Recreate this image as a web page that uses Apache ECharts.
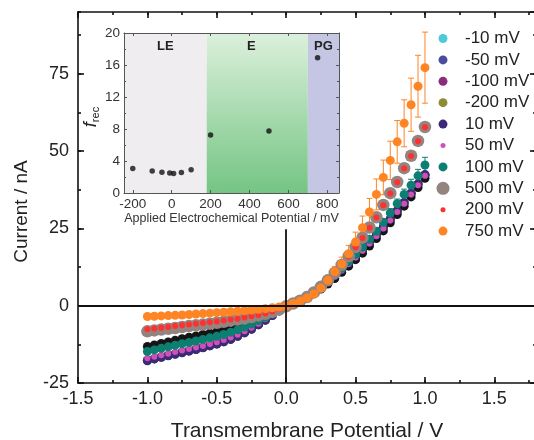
<!DOCTYPE html>
<html><head><meta charset="utf-8">
<script src="https://cdn.jsdelivr.net/npm/echarts@6/dist/echarts.min.js"></script>
<style>html,body{margin:0;padding:0;background:#fff}#c{width:534px;height:440px}</style>
</head><body><div id="c"></div>
<script>
// Transmembrane potential (V)
const potentials = [-1.0,-0.95,-0.9,-0.85,-0.8,-0.75,-0.7,-0.65,-0.6,-0.55,-0.5,-0.45,-0.4,-0.35,-0.3,-0.25,-0.2,-0.15,-0.1,-0.05,0,
  0.05,0.1,0.15,0.2,0.25,0.3,0.35,0.4,0.45,0.5,0.55,0.6,0.65,0.7,0.75,0.8,0.85,0.9,0.95,1.0];

// Currents (nA) for each applied electrochemical potential
const cur_m10 = [-17.7,-17.1,-16.6,-16.1,-15.6,-15.1,-14.6,-14.1,-13.5,-12.9,-12.3,-11.6,-10.8,-9.8,-8.7,-7.5,-6.1,-4.6,-3.1,-1.6,-0.4,
  0.7,1.7,2.9,4.3,5.9,7.7,9.6,11.6,13.7,15.9,18.1,20.4,22.8,25.3,27.9,30.6,33.3,36.3,39.3,42.3];
const cur_m50 = [-17.6,-17.1,-16.5,-16.0,-15.5,-15.0,-14.5,-14.0,-13.5,-12.9,-12.3,-11.6,-10.8,-9.8,-8.7,-7.5,-6.1,-4.6,-3.1,-1.6,-0.4,
  0.7,1.7,2.9,4.3,5.9,7.7,9.6,11.6,13.7,15.9,18.1,20.4,22.8,25.3,27.9,30.5,33.2,36.2,39.2,42.2];
const cur_m100 = [-17.7,-17.2,-16.6,-16.1,-15.6,-15.1,-14.6,-14.1,-13.5,-12.9,-12.3,-11.6,-10.8,-9.8,-8.7,-7.5,-6.1,-4.6,-3.1,-1.6,-0.4,
  0.7,1.7,2.9,4.4,6.0,7.7,9.6,11.6,13.7,15.9,18.1,20.4,22.8,25.3,27.9,30.6,33.3,36.3,39.3,42.3];
const cur_m200 = [-17.6,-17.1,-16.6,-16.1,-15.6,-15.1,-14.6,-14.1,-13.5,-12.9,-12.3,-11.6,-10.8,-9.8,-8.7,-7.5,-6.1,-4.6,-3.1,-1.6,-0.4,
  0.7,1.7,2.9,4.3,5.9,7.7,9.6,11.6,13.7,15.9,18.1,20.4,22.8,25.3,27.9,30.6,33.3,36.3,39.3,42.3];
const cur_10 = [-17.8,-17.2,-16.7,-16.2,-15.7,-15.2,-14.7,-14.2,-13.6,-13.0,-12.4,-11.7,-10.9,-9.9,-8.8,-7.6,-6.2,-4.7,-3.2,-1.7,-0.4,
  0.7,1.7,2.9,4.4,6.0,7.8,9.7,11.7,13.8,16.0,18.2,20.5,22.9,25.4,28.0,30.7,33.4,36.4,39.4,42.4];
const cur_50 = [-17.0,-16.5,-16.0,-15.5,-15.0,-14.5,-14.0,-13.5,-13.0,-12.4,-11.8,-11.1,-10.3,-9.4,-8.3,-7.1,-5.8,-4.4,-3.0,-1.5,-0.3,
  0.6,1.6,2.8,4.2,5.8,7.5,9.4,11.4,13.5,15.6,17.8,20.1,22.5,25.0,27.6,30.3,33.0,36.0,39.0,42.0];
const cur_100 = [-14.8,-14.3,-13.8,-13.3,-12.8,-12.3,-11.9,-11.4,-10.9,-10.4,-9.9,-9.3,-8.6,-7.8,-6.9,-5.9,-4.8,-3.7,-2.5,-1.3,-0.2,
  0.7,1.7,3.0,4.5,6.2,8.0,10.0,12.1,14.3,16.6,19.0,21.5,24.1,27.0,30.0,33.0,36.0,39.0,42.0,45.5];
const cur_500 = [-8.3,-8.0,-7.7,-7.45,-7.2,-6.9,-6.6,-6.35,-6.1,-5.8,-5.5,-5.2,-4.85,-4.5,-4.1,-3.65,-3.15,-2.6,-2.0,-1.2,-0.2,
  0.7,1.6,2.8,4.3,6.1,8.2,10.6,13.2,16.0,19.0,22.0,25.3,28.6,32.6,36.4,40.0,44.5,48.5,53.3,57.8];
const cur_200 = [-7.6,-7.35,-7.1,-6.85,-6.6,-6.35,-6.1,-5.85,-5.6,-5.35,-5.1,-4.8,-4.5,-4.2,-3.85,-3.45,-3.0,-2.5,-1.9,-1.1,-0.2,
  0.7,1.6,2.8,4.2,6.0,8.1,10.5,13.1,15.9,18.9,21.9,25.2,28.5,32.5,36.3,39.9,44.4,48.4,53.2,57.7];
const cur_750 = [-3.5,-3.4,-3.3,-3.2,-3.1,-3.0,-2.85,-2.7,-2.55,-2.4,-2.25,-2.1,-1.95,-1.8,-1.6,-1.4,-1.2,-0.95,-0.7,-0.4,-0.1,
  0.7,1.5,2.5,3.8,5.7,8.2,11.0,13.5,16.8,20.6,25.2,30.3,36.0,41.5,47.0,53.0,59.0,65.0,71.0,77.0];
const cur_black = [-13.2,-12.7,-12.2,-11.7,-11.2,-10.7,-10.2,-9.8,-9.3,-8.9,-8.4,-7.9,-7.3,-6.6,-5.9,-5.1,-4.2,-3.3,-2.3,-1.2,-0.2,
  0.5,1.4,2.5,3.9,5.4,7.0,8.8,10.8,12.8,14.9,17.0,19.3,21.7,24.2,26.8,29.5,32.2,35.2,38.2,41.2];

// Error bars (nA)
const err_750 = [0.3,0.3,0.3,0.3,0.3,0.3,0.3,0.3,0.3,0.3,0.3,0.3,0.3,0.3,0.3,0.3,0.3,0.3,0.3,0.3,0.2,
  0.3,0.4,0.5,0.7,1.0,1.3,1.7,2.2,2.7,3.2,3.8,4.4,5.0,5.6,6.2,6.9,7.6,8.6,10.0,11.5];
const err_100 = [0.3,0.3,0.3,0.3,0.3,0.3,0.3,0.3,0.3,0.3,0.3,0.3,0.3,0.3,0.3,0.3,0.3,0.2,0.2,0.2,0.1,
  0.2,0.2,0.3,0.3,0.4,0.4,0.5,0.6,0.7,0.8,0.9,1.0,1.1,1.2,1.4,1.5,1.7,1.9,2.1,2.5];

// Inset: rectification factor vs applied electrochemical potential
const insetPotential = [-200,-100,-50,-10,10,50,100,200,500,750];
const frec = [3.05,2.75,2.6,2.5,2.45,2.55,2.9,7.25,7.75,16.9];
const regionNames = ['LE','E','PG'];
const regionBounds = [-245,180,700,860];

const seriesNames = ['-10 mV','-50 mV','-100 mV','-200 mV','10 mV','50 mV','100 mV','500 mV','200 mV','750 mV'];

const FONT = 'Liberation Sans, Arial, Helvetica, sans-serif';
function pts(arr){ return potentials.map((v,i)=>[v, arr[i]]); }
function iconPath(r){
  const a = (10 + r).toFixed(2), b = (10 - r).toFixed(2);
  return 'path://M0,0L0,0M20,20L20,20M' + a + ',10A' + r + ',' + r + ',0,1,1,' + b + ',10A' + r + ',' + r + ',0,1,1,' + a + ',10Z';
}
function sc(name, arr, color, size, z){
  return {name:name, type:'scatter', xAxisIndex:0, yAxisIndex:0, data:pts(arr), symbol:'circle', symbolSize:size,
    itemStyle:{color:color, opacity:1}, z:z||2, silent:true};
}
function errBars(arr, errs, color){
  return {type:'custom', xAxisIndex:0, yAxisIndex:0, silent:true, z:2,
    data: potentials.map((v,i)=>[v, arr[i], errs[i]]),
    renderItem:function(params, api){
      const x = api.value(0), y = api.value(1), e = api.value(2);
      const t = api.coord([x, y+e]), b = api.coord([x, y-e]);
      const w = 3, st = {stroke:color, lineWidth:1};
      return {type:'group', children:[
        {type:'line', shape:{x1:t[0],y1:t[1],x2:b[0],y2:b[1]}, style:st},
        {type:'line', shape:{x1:t[0]-w,y1:t[1],x2:t[0]+w,y2:t[1]}, style:st},
        {type:'line', shape:{x1:b[0]-w,y1:b[1],x2:b[0]+w,y2:b[1]}, style:st}
      ]};
    }};
}

const axisLineStyle = {color:'#111', width:1.6};
function mainX(pos, labels, interval, tickLen){
  return {type:'value', gridIndex:0, position:pos, min:-1.5, max:1.8, interval:interval, z:4,
    axisLine:{show:labels!==null, lineStyle:axisLineStyle, onZero:false},
    axisTick:{show:true, inside:true, length:tickLen, lineStyle:{color:'#111', width:1.6}},
    axisLabel:{show:!!labels, fontSize:18, color:'#222', fontFamily:FONT, margin:7, showMaxLabel:false,
      formatter:function(v){ return v.toFixed(1); }},
    splitLine:{show:false}};
}
function mainY(pos, labels, interval, tickLen){
  return {type:'value', gridIndex:0, position:pos, min:-25, max:95, interval:interval, z:4,
    axisLine:{show:labels!==null, lineStyle:axisLineStyle, onZero:false},
    axisTick:{show:true, inside:true, length:tickLen, lineStyle:{color:'#111', width:1.6}},
    axisLabel:{show:!!labels, fontSize:18, color:'#222', fontFamily:FONT, margin:9, showMaxLabel:false},
    splitLine:{show:false}};
}

const xAxes = [
  Object.assign(mainX('bottom', true, 0.5, 6), {name:'Transmembrane Potential / V', nameLocation:'middle', nameGap:38,
    nameTextStyle:{fontSize:21, color:'#222', fontFamily:FONT}}),
  mainX('top', false, 0.5, 6),
  mainX('bottom', null, 0.25, 3),
  mainX('top', null, 0.25, 3)
];
const yAxes = [
  Object.assign(mainY('left', true, 25, 6), {name:'Current / nA', nameLocation:'middle', nameGap:47,
    nameTextStyle:{fontSize:19, color:'#222', fontFamily:FONT, padding:[0,28,0,0]}}),
  mainY('right', false, 25, 6),
  mainY('left', null, 12.5, 3),
  mainY('right', null, 12.5, 3)
];
const insetLine = {color:'#555', width:1};
xAxes.push({type:'value', gridIndex:1, position:'bottom', min:regionBounds[0], max:regionBounds[3], splitNumber:5, z:6,
  axisLine:{show:true, lineStyle:insetLine, onZero:false},
  axisTick:{show:true, inside:true, length:3, lineStyle:insetLine},
  axisLabel:{fontSize:13.5, color:'#333', fontFamily:FONT, margin:4, showMinLabel:false, showMaxLabel:false},
  splitLine:{show:false},
  name:'Applied Electrochemical Potential / mV', nameLocation:'middle', nameGap:19,
  nameTextStyle:{fontSize:12.5, color:'#333', fontFamily:FONT}});
xAxes.push({type:'value', gridIndex:1, position:'top', min:regionBounds[0], max:regionBounds[3], splitNumber:5, z:6,
  axisLine:{show:true, lineStyle:insetLine, onZero:false},
  axisTick:{show:true, inside:true, length:3, lineStyle:insetLine}, axisLabel:{show:false}, splitLine:{show:false}});
yAxes.push({type:'value', gridIndex:1, position:'left', min:0, max:20, interval:4, z:6,
  axisLine:{show:true, lineStyle:insetLine, onZero:false},
  axisTick:{show:true, inside:true, length:3, lineStyle:insetLine},
  minorTick:{show:true, splitNumber:2, length:2, lineStyle:insetLine},
  axisLabel:{fontSize:13.5, color:'#333', fontFamily:FONT, margin:4},
  splitLine:{show:false}, minorSplitLine:{show:false},
  name:'{f|f}{s|rec}', nameLocation:'middle', nameGap:13,
  nameTextStyle:{color:'#222', fontFamily:FONT, padding:[0,8,0,0], rich:{f:{fontSize:18, fontStyle:'italic', fontFamily:FONT, color:'#222'},
    s:{fontSize:11, fontFamily:FONT, color:'#222', padding:[9,0,0,0]}}}});
yAxes.push({type:'value', gridIndex:1, position:'right', min:0, max:20, interval:4, z:6,
  axisLine:{show:true, lineStyle:insetLine, onZero:false},
  axisTick:{show:true, inside:true, length:3, lineStyle:insetLine},
  minorTick:{show:true, splitNumber:2, length:2, lineStyle:insetLine},
  axisLabel:{show:false}, splitLine:{show:false}, minorSplitLine:{show:false}});

const eGradient = {type:'linear', x:0, y:0, x2:0, y2:1, colorStops:[{offset:0, color:'#dcf0dc'},{offset:1, color:'#74c583'}]};
const regionColors = ['#efedef', eGradient, '#c4c6e4'];

const series = [
  // zero lines
  {type:'scatter', xAxisIndex:0, yAxisIndex:0, data:[], z:1, silent:true,
    markLine:{silent:true, symbol:['none','none'], animation:false, label:{show:false},
      lineStyle:{color:'#111', width:1.8, type:'solid'},
      data:[ [{coord:[0,-25]},{coord:[0,24.7]}], [{coord:[-1.5,0]},{coord:[1.8,0]}] ]}},
  sc('-10 mV', cur_m10, '#4fc9d8', 9),
  sc('-50 mV', cur_m50, '#4a4c9e', 9),
  sc('-100 mV', cur_m100, '#8a2b7c', 9),
  sc('-200 mV', cur_m200, '#8d8c35', 9),
  sc('0', cur_black, '#151515', 9),
  sc('10 mV', cur_10, '#3c2a78', 9),
  sc('50 mV', cur_50, '#d04fb9', 6),
  errBars(cur_100, err_100, '#0d7f72'),
  sc('100 mV', cur_100, '#0d7f72', 9),
  sc('500 mV', cur_500, '#948480', 12.5),
  sc('200 mV', cur_200, '#ff3030', 6),
  errBars(cur_750, err_750, '#ff8524'),
  sc('750 mV', cur_750, '#ff8524', 9),
  // inset
  {type:'scatter', xAxisIndex:4, yAxisIndex:4, data:insetPotential.map((v,i)=>[v, frec[i]]),
    symbolSize:5.5, itemStyle:{color:'#111'}, z:5, silent:true,
    markArea:{silent:true, z:3,
      label:{show:true, position:'insideTop', distance:7, fontWeight:'bold', fontSize:13, color:'#222', fontFamily:FONT},
      data: regionNames.map((n,i)=>[{name:n, xAxis:regionBounds[i], itemStyle:{color:regionColors[i], opacity:1},
        label: i===1 ? {offset:[-6,0]} : {}}, {xAxis:regionBounds[i+1]}])}}
];

const iconR = {'-10 mV':6.4,'-50 mV':6.4,'-100 mV':6.4,'-200 mV':6.4,'10 mV':6.4,'50 mV':3.6,'100 mV':6.4,'500 mV':9.3,'200 mV':3.6,'750 mV':6.4};

const option = {
  animation:false,
  backgroundColor:'#fff',
  grid:[
    {left:78, top:12, right:-2, bottom:57, containLabel:false, outerBoundsMode:'none'},
    {left:124, top:33, right:195, bottom:247, containLabel:false, outerBoundsMode:'none', show:true, backgroundColor:'#fff', borderWidth:0, z:3}
  ],
  legend:{orient:'vertical', left:431, top:25, itemWidth:24, itemHeight:14, itemGap:4.4, selectedMode:false,
    textStyle:{fontSize:17, color:'#222', fontFamily:FONT, padding:[0,0,0,5]},
    data: seriesNames.map(n=>({name:n, icon:iconPath(iconR[n])}))},
  xAxis:xAxes,
  yAxis:yAxes,
  series:series
};
const chart = echarts.init(document.getElementById('c'), null, {renderer:'canvas'});
chart.setOption(option);
</script></body></html>
